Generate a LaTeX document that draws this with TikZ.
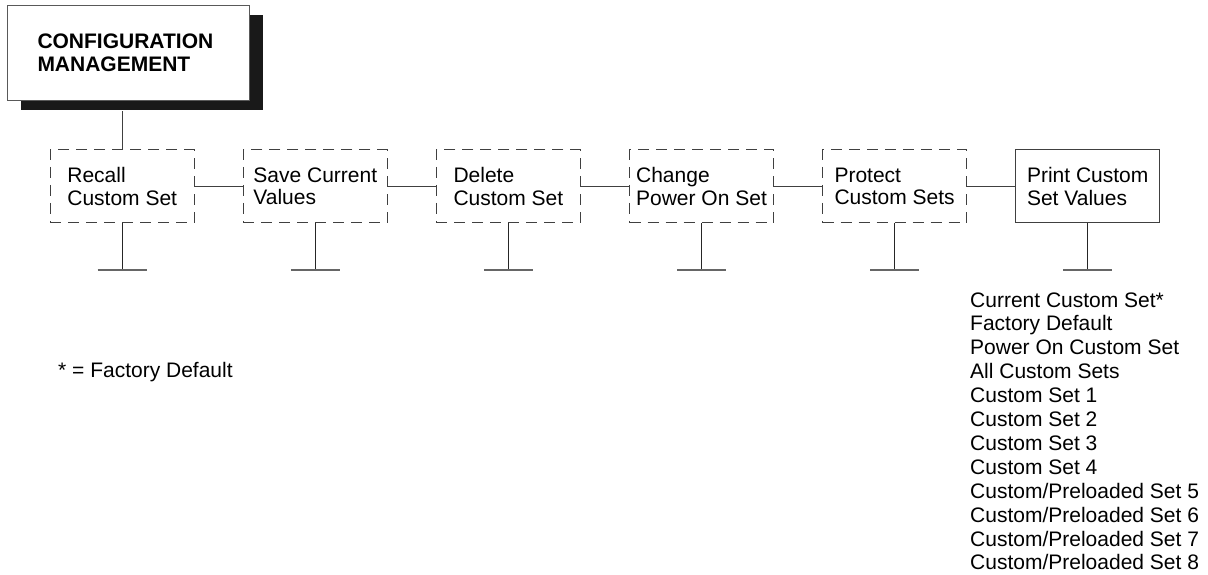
\documentclass[tikz,border=0pt]{standalone}
\usepackage{fontspec}
\setmainfont{Liberation Sans}
\usetikzlibrary{positioning,shadows}

\tikzset{
  menubox/.style={draw=black!75, line width=1.1pt, dash pattern=on 11pt off 7pt,
    minimum width=144pt, minimum height=73pt, align=left, inner sep=0pt,
    font=\fontsize{21}{22.3}\selectfont},
  solidbox/.style={menubox, solid},
  link/.style={draw=black!75, line width=1.1pt},
  stem/.style={draw=black!85, line width=1.1pt},
  bar/.style={draw=black!60, line width=2pt},
  listitem/.style={inner sep=0pt, anchor=base west, font=\fontsize{21}{23.9}\selectfont},
}

\begin{document}
\begin{tikzpicture}[x=1pt, y=1pt, node distance=48pt]
    \useasboundingbox (0,0) rectangle (1208,-575);

    % Title box with shadow
    \node[draw=black!65, line width=1pt, fill=white,
          drop shadow={shadow xshift=13.5pt, shadow yshift=-10pt, fill=black!90, opacity=1},
          text width=182pt, inner xsep=30pt, inner ysep=0pt, minimum height=95pt,
          align=left, anchor=north west, font=\bfseries\fontsize{21}{23.3}\selectfont]
          (config) at (7,-5) {CONFIGURATION\\MANAGEMENT};
    \coordinate (config-shadow) at ([yshift=-10pt]config.south);

    % Menu boxes
    \node[menubox] (recall) at (122.2,-186.4) {Recall\\Custom Set};
    \node[menubox, right=of recall] (save) {Save Current\\Values};
    \node[menubox, right=of save] (delete) {Delete\\Custom Set};
    \node[menubox, right=of delete] (change) {Change\\Power On Set};
    \node[menubox, right=of change] (protect) {Protect\\Custom Sets};
    \node[solidbox, right=of protect] (print) {Print Custom\\Set Values};

    % Connectors
    \draw[link] (recall.north) -- (recall.north |- config-shadow);
    \draw[link] (recall) -- (save);
    \draw[link] (save) -- (delete);
    \draw[link] (delete) -- (change);
    \draw[link] (change) -- (protect);
    \draw[link] (protect) -- (print);

    % Stubs below each box
    \foreach \n in {recall,save,delete,change,protect,print} {
        \draw[stem] (\n.south) -- ++(0,-47) coordinate (\n-foot);
        \draw[bar] ([xshift=-24.5pt]\n-foot) -- ([xshift=24.5pt]\n-foot);
    }

    % Footnote
    \node[listitem] (note) at (58,-377) {* = Factory Default};

    % Print options
    \foreach \txt [count=\i from 0] in {{Current Custom Set*}, {Factory Default},
        {Power On Custom Set}, {All Custom Sets}, {Custom Set 1}, {Custom Set 2},
        {Custom Set 3}, {Custom Set 4}, {Custom/Preloaded Set 5},
        {Custom/Preloaded Set 6}, {Custom/Preloaded Set 7}, {Custom/Preloaded Set 8}}
        \node[listitem] (item-\i) at (970,{-307-23.9*\i}) {\txt};

\end{tikzpicture}
\end{document}
